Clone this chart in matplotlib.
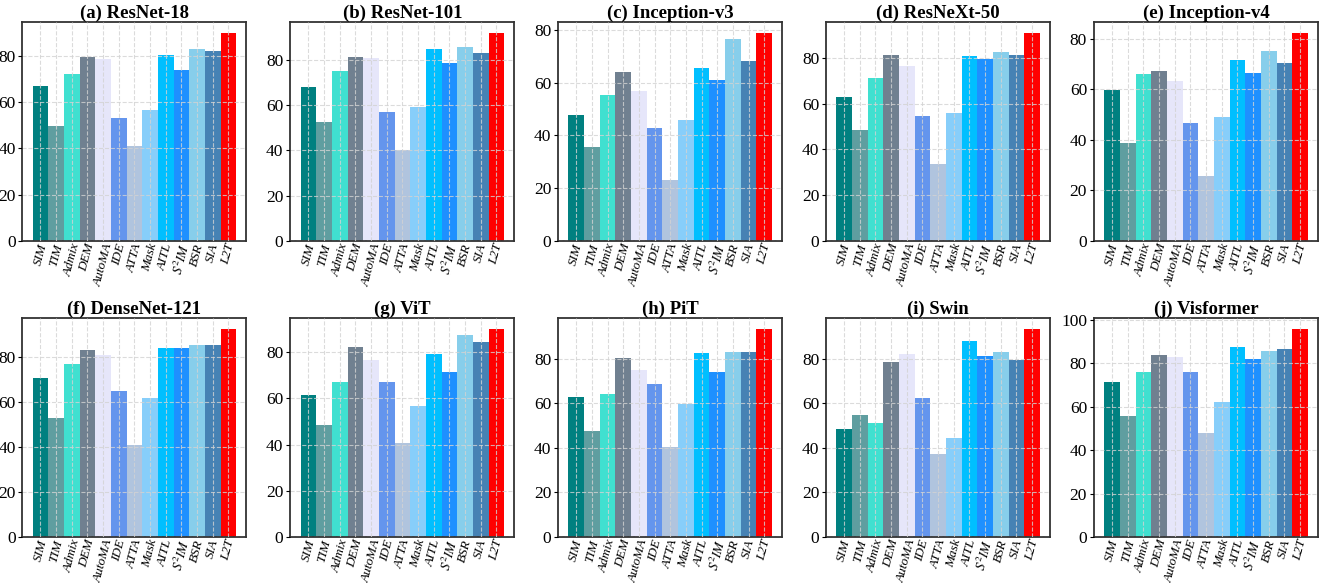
import matplotlib
matplotlib.use('Agg')
import matplotlib.pyplot as plt
import numpy as np

plt.rcParams['font.family'] = 'Liberation Serif'
plt.rcParams['mathtext.fontset'] = 'stix'

methods = ['SIM', 'TIM', 'Admix', 'DEM', 'AutoMA', 'IDE', 'ATTA', 'Mask',
           'AITL', '$S^2IM$', 'BSR', 'SIA', 'L2T']
colors = ['teal', 'cadetblue', 'turquoise', 'slategray', 'lavender',
          'cornflowerblue', 'lightsteelblue', 'lightskyblue', 'deepskyblue',
          'dodgerblue', 'skyblue', 'steelblue', 'red']

titles = ['(a) ResNet-18', '(b) ResNet-101', '(c) Inception-v3', '(d) ResNeXt-50',
          '(e) Inception-v4', '(f) DenseNet-121', '(g) ViT', '(h) PiT',
          '(i) Swin', '(j) Visformer']

resnet18 = [66.8, 49.5, 72.0, 79.7, 78.7, 53.2, 40.9, 56.8, 80.6, 73.7, 83.2, 82.3, 90.1]
resnet101 = [68.2, 52.4, 74.9, 81.5, 81.0, 56.8, 40.0, 59.4, 85.0, 78.8, 85.9, 82.9, 92.1]
inc_v3 = [47.6, 35.8, 55.5, 64.2, 56.7, 43.0, 23.0, 45.7, 65.7, 61.2, 76.7, 68.4, 79.0]
resnext50 = [63.1, 48.7, 71.4, 81.5, 76.7, 54.8, 33.5, 56.1, 81.0, 79.7, 82.8, 81.5, 91.1]
inc_v4 = [59.6, 38.6, 65.9, 67.1, 63.5, 46.5, 25.6, 49.2, 71.8, 66.3, 75.4, 70.6, 82.5]
densenet121 = [70.5, 52.8, 76.8, 83.0, 80.8, 64.8, 40.7, 61.9, 83.9, 83.9, 85.6, 85.2, 92.7]
vit = [61.5, 48.3, 66.9, 82.4, 76.8, 66.9, 40.8, 56.9, 79.4, 71.2, 87.6, 84.2, 90.2]
pit = [62.7, 47.4, 64.0, 80.6, 74.8, 68.5, 40.2, 59.5, 82.8, 73.9, 83.3, 83.3, 93.6]
swin = [48.7, 54.6, 51.0, 78.8, 82.4, 62.2, 37.1, 44.3, 87.8, 81.5, 83.3, 79.3, 93.6]
visformer = [71.2, 55.5, 75.8, 84.0, 82.7, 76.2, 47.7, 62.0, 87.3, 82.2, 85.9, 86.8, 96.0]

results = [resnet18, resnet101, inc_v3, resnext50, inc_v4,
           densenet121, vit, pit, swin, visformer]

fig, axes = plt.subplots(2, 5, figsize=(13.22, 5.83), dpi=100)
plt.subplots_adjust(left=0.017, right=0.997, top=0.962, bottom=0.079,
                    wspace=0.196, hspace=0.353)

x = np.arange(len(methods))
for ax, title, vals in zip(axes.flat, titles, results):
    ax.bar(x, vals, width=1.0, color=colors)
    ax.set_ylim(0, max(vals) * 1.05)
    ax.set_title(title, fontsize=13.5, fontweight='bold', pad=3)
    ax.set_xticks(x)
    ax.set_xticklabels(methods, rotation=75, fontstyle='italic', fontsize=9.5)
    ax.tick_params(axis='y', labelsize=12.5, length=3, pad=2)
    ax.tick_params(axis='x', length=0, pad=1)
    ax.set_axisbelow(False)
    ax.grid(True, linestyle='--', color='lightgray', alpha=0.8, linewidth=0.8)
    for s in ax.spines.values():
        s.set_color('#333333')
        s.set_linewidth(1.3)

fig.savefig('out.png')
